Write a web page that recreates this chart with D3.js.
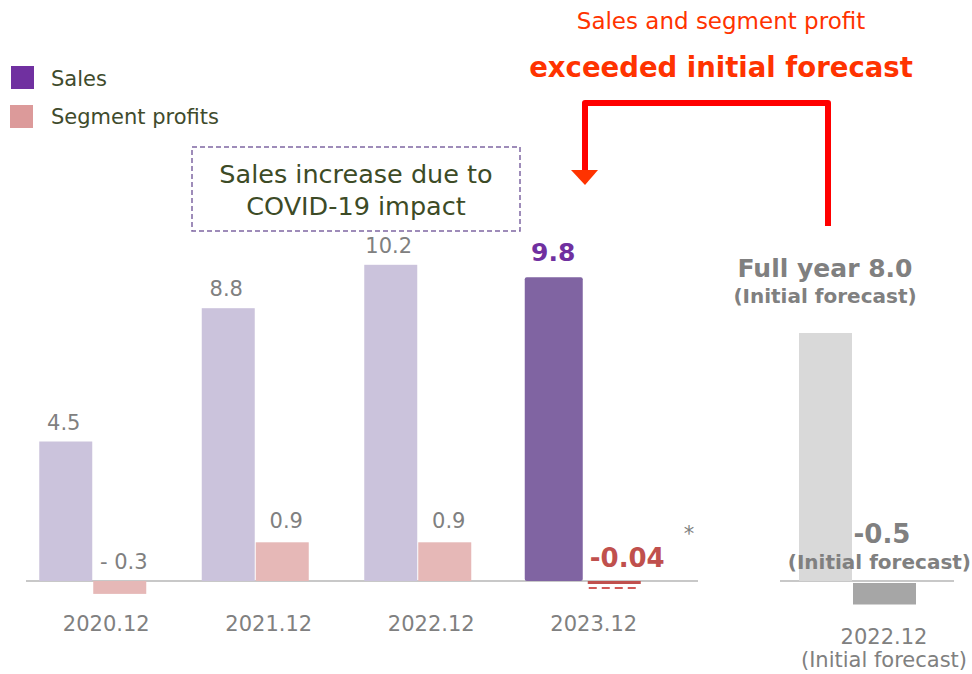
<!DOCTYPE html>
<html>
<head>
<meta charset="utf-8">
<script src="https://cdn.jsdelivr.net/npm/d3@7"></script>
<style>
  body { margin: 0; background: #fff; }
  svg { display: block; font-family: "DejaVu Sans", "Noto Sans", sans-serif; }
</style>
</head>
<body>
<div id="chart"></div>
<script>
// data
const years = ["2020.12", "2021.12", "2022.12", "2023.12"];
const sales = [4.5, 8.8, 10.2, 9.8];
const profits = [-0.3, 0.9, 0.9, -0.04];
const salesLabels = ["4.5", "8.8", "10.2", "9.8"];
const profitLabels = ["- 0.3", "0.9", "0.9", "-0.04"];
const forecastCat = ["2022.12"];
const forecastSales = [8.0];
const forecastProfit = [-0.5];

const width = 972;
const height = 674;
const baseY = 581;

const svg = d3.select("#chart").append("svg")
  .attr("width", width)
  .attr("height", height);

// scales (sales and profits each get their own vertical scale)
const ySales = d3.scaleLinear().domain([0, 10]).range([baseY, baseY - 310]);
const yProfit = d3.scaleLinear().domain([0, 1]).range([baseY, baseY - 43]);

const x = d3.scaleBand().domain(years).range([11, 661]);
const inner = d3.scaleBand().domain(["sales", "profit"]).range([-53, 53]);
const xF = d3.scaleBand().domain(forecastCat).range([771, 933]);

const grey = "#808080";

// baselines
svg.append("line")
  .attr("x1", 26).attr("x2", 698)
  .attr("y1", baseY).attr("y2", baseY)
  .attr("stroke", "#c8c8c8").attr("stroke-width", 2);
svg.append("line")
  .attr("x1", 780).attr("x2", 954)
  .attr("y1", baseY).attr("y2", baseY)
  .attr("stroke", "#c8c8c8").attr("stroke-width", 2);

const rows = years.map((y, i) => ({
  year: y, sales: sales[i], profit: profits[i],
  sl: salesLabels[i], pl: profitLabels[i], last: i === years.length - 1
}));
const cx = (d) => x(d.year) + x.bandwidth() / 2;

// sales bars
svg.append("g").selectAll("rect")
  .data(rows)
  .join("rect")
  .attr("x", (d) => cx(d) + inner("sales") + (d.last ? -2 : 0))
  .attr("width", (d) => inner.bandwidth() + (d.last ? 5 : 0))
  .attr("y", (d) => ySales(d.sales))
  .attr("height", (d) => baseY - ySales(d.sales))
  .attr("rx", (d) => d.last ? 2 : 0)
  .attr("fill", (d) => d.last ? "#8064a2" : "#cbc3dc");

// profit bars
svg.append("g").selectAll("rect")
  .data(rows)
  .join("rect")
  .attr("x", (d) => cx(d) + inner("profit") + (d.last ? 8 : 1))
  .attr("width", inner.bandwidth())
  .attr("y", (d) => Math.min(yProfit(d.profit), baseY))
  .attr("height", (d) => Math.max(Math.abs(yProfit(d.profit) - baseY), 3))
  .attr("fill", (d) => d.last ? "#c0504d" : "#e6b8b7");

// dashed marker under the tiny 2023 profit
const last = rows[rows.length - 1];
svg.append("line")
  .attr("x1", cx(last) + inner("profit") + 9)
  .attr("x2", cx(last) + inner("profit") + 8 + inner.bandwidth())
  .attr("y1", baseY + 7).attr("y2", baseY + 7)
  .attr("stroke", "#d05a58").attr("stroke-width", 2)
  .attr("stroke-dasharray", "8,5");

// sales value labels
svg.append("g").selectAll("text")
  .data(rows)
  .join("text")
  .attr("x", (d) => cx(d) + inner("sales") + inner.bandwidth() / 2 + (d.last ? 0 : -2))
  .attr("y", (d) => ySales(d.sales) - (d.last ? 16 : 12))
  .attr("text-anchor", "middle")
  .attr("font-size", (d) => d.last ? 25 : 21)
  .attr("font-weight", (d) => d.last ? "bold" : "normal")
  .attr("fill", (d) => d.last ? "#7030a0" : grey)
  .text((d) => d.sl);

// profit value labels
svg.append("g").selectAll("text")
  .data(rows)
  .join("text")
  .attr("x", (d) => cx(d) + inner("profit") + inner.bandwidth() / 2 + (d.last ? 21 : 5))
  .attr("y", (d) => d.profit < 0 ? baseY - (d.last ? 14 : 12) : yProfit(d.profit) - 14)
  .attr("text-anchor", "middle")
  .attr("font-size", (d) => d.last ? 26 : 21)
  .attr("font-weight", (d) => d.last ? "bold" : "normal")
  .attr("fill", (d) => d.last ? "#c0504d" : grey)
  .text((d) => d.pl);

svg.append("text")
  .attr("x", 689).attr("y", 541)
  .attr("text-anchor", "middle")
  .attr("font-size", 21).attr("fill", grey)
  .text("*");

// category labels
svg.append("g").selectAll("text")
  .data(rows)
  .join("text")
  .attr("x", (d) => cx(d) + 14)
  .attr("y", 631)
  .attr("text-anchor", "middle")
  .attr("font-size", 21).attr("fill", grey)
  .text((d) => d.year);

// forecast group
const fx = xF(forecastCat[0]) + xF.bandwidth() / 2;
svg.append("rect")
  .attr("x", fx + inner("sales")).attr("width", inner.bandwidth())
  .attr("y", ySales(forecastSales[0]))
  .attr("height", baseY - ySales(forecastSales[0]))
  .attr("fill", "#d9d9d9");
svg.append("rect")
  .attr("x", fx + inner("profit") + 1).attr("width", inner.bandwidth() + 10)
  .attr("y", baseY + 2)
  .attr("height", yProfit(forecastProfit[0]) - baseY)
  .attr("fill", "#a6a6a6");

svg.append("text")
  .attr("x", 825).attr("y", 277)
  .attr("text-anchor", "middle")
  .attr("font-size", 25).attr("font-weight", "bold").attr("fill", grey)
  .text("Full year " + forecastSales[0].toFixed(1));
svg.append("text")
  .attr("x", 825).attr("y", 303)
  .attr("text-anchor", "middle")
  .attr("font-size", 20).attr("font-weight", "bold").attr("fill", grey)
  .text("(Initial forecast)");

svg.append("text")
  .attr("x", 882).attr("y", 543)
  .attr("text-anchor", "middle")
  .attr("font-size", 26).attr("font-weight", "bold").attr("fill", grey)
  .text(forecastProfit[0].toFixed(1));
svg.append("text")
  .attr("x", 971).attr("y", 569)
  .attr("text-anchor", "end")
  .attr("font-size", 20).attr("font-weight", "bold").attr("fill", grey)
  .text("(Initial forecast)");

svg.append("text")
  .attr("x", 884).attr("y", 644)
  .attr("text-anchor", "middle")
  .attr("font-size", 21).attr("fill", grey)
  .text(forecastCat[0]);
svg.append("text")
  .attr("x", 884).attr("y", 667)
  .attr("text-anchor", "middle")
  .attr("font-size", 21).attr("fill", grey)
  .text("(Initial forecast)");

// legend
const legend = svg.append("g");
legend.append("rect").attr("x", 11).attr("y", 66).attr("width", 23).attr("height", 23).attr("fill", "#7030a0");
legend.append("text").attr("x", 51).attr("y", 86).attr("font-size", 21).attr("fill", "#404b2c").text("Sales");
legend.append("rect").attr("x", 10).attr("y", 105).attr("width", 23).attr("height", 23).attr("fill", "#dc9a9a");
legend.append("text").attr("x", 51).attr("y", 124).attr("font-size", 21).attr("fill", "#404b2c").text("Segment profits");

// note box
svg.append("rect")
  .attr("x", 192).attr("y", 147).attr("width", 328).attr("height", 84)
  .attr("fill", "none").attr("stroke", "#7f67a3").attr("stroke-width", 1.5)
  .attr("stroke-dasharray", "5,3");
svg.append("text").attr("x", 356).attr("y", 183).attr("text-anchor", "middle")
  .attr("font-size", 25.5).attr("fill", "#3d4b26").text("Sales increase due to");
svg.append("text").attr("x", 356).attr("y", 215).attr("text-anchor", "middle")
  .attr("font-size", 25.5).attr("fill", "#3d4b26").text("COVID-19 impact");

// headline
svg.append("text").attr("x", 721).attr("y", 29).attr("text-anchor", "middle")
  .attr("font-size", 23).attr("fill", "#ff3300").text("Sales and segment profit");
svg.append("text").attr("x", 721).attr("y", 77).attr("text-anchor", "middle")
  .attr("font-size", 27.5).attr("font-weight", "bold").attr("fill", "#ff3300")
  .text("exceeded initial forecast");

// arrow
svg.append("path")
  .attr("d", d3.line()([[828, 226], [828, 103], [585, 103], [585, 172]]))
  .attr("fill", "none").attr("stroke", "#ff0000").attr("stroke-width", 6)
  .attr("stroke-linejoin", "round");
svg.append("path")
  .attr("d", d3.line()([[571, 170], [598, 170], [585, 185]]) + "Z")
  .attr("fill", "#ff3300");
</script>
</body>
</html>
